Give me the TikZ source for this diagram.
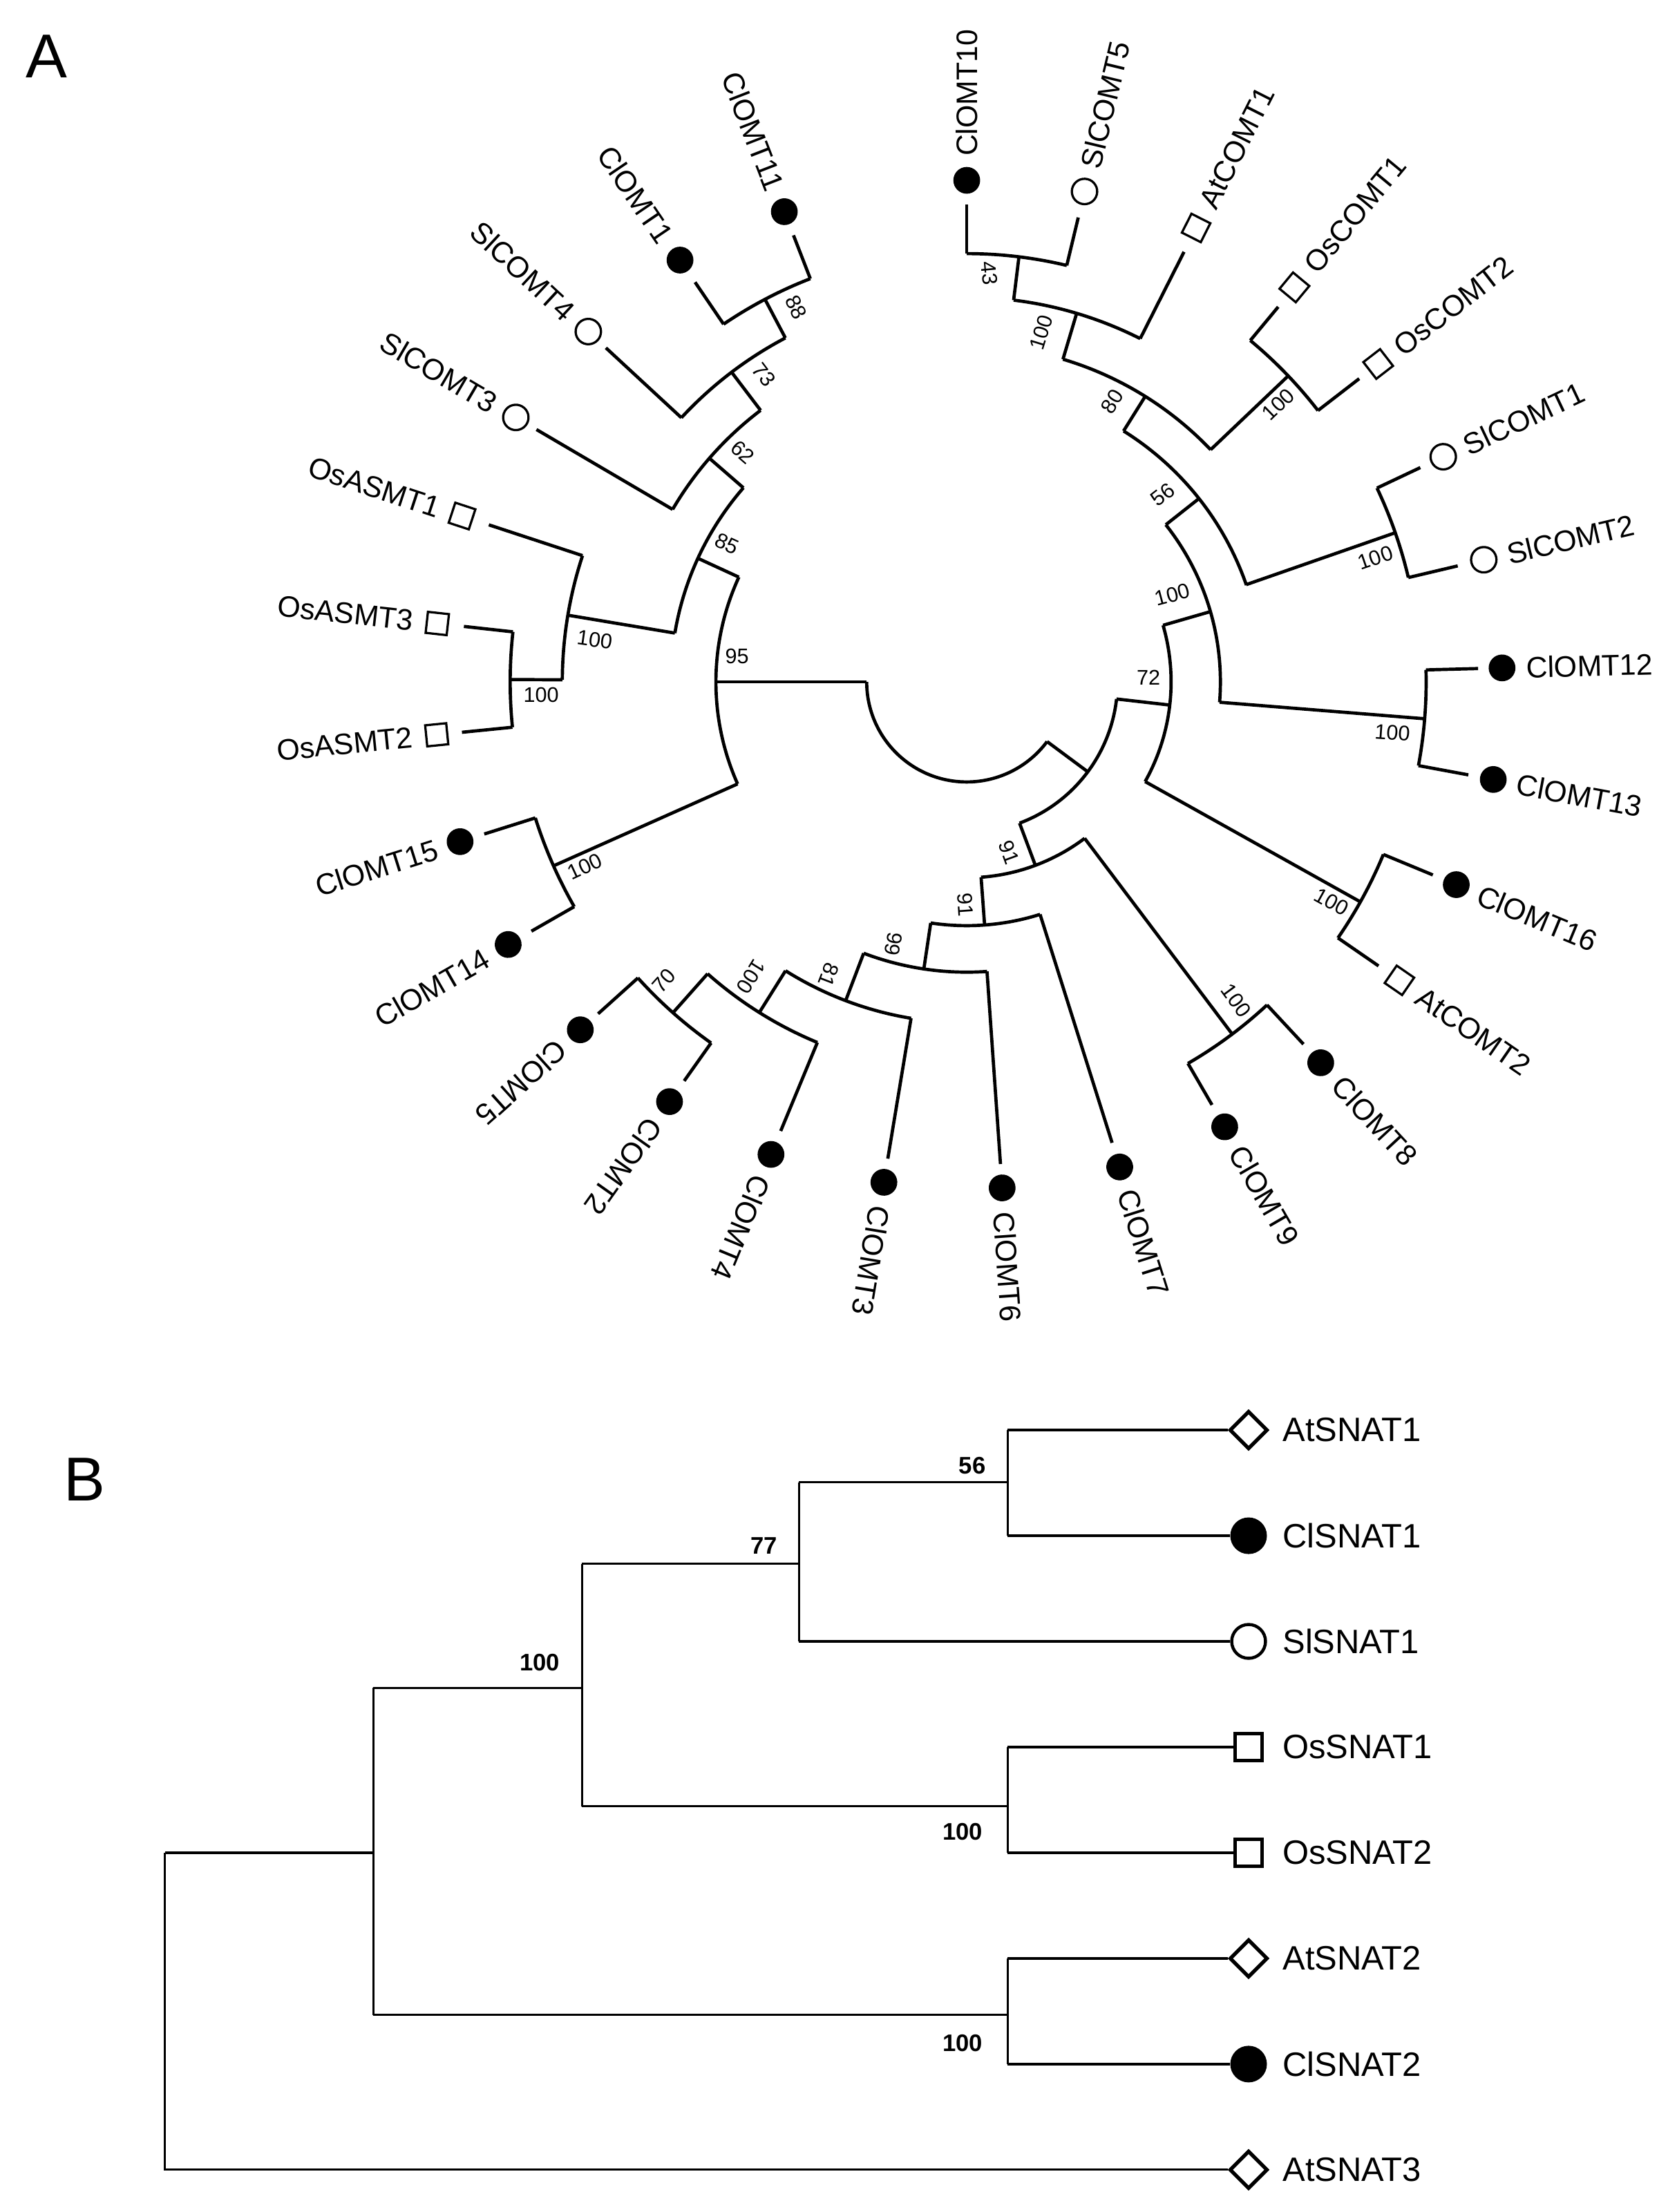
\documentclass[tikz,border=0pt]{standalone}
\usepackage{fontspec}
\setmainfont{Liberation Sans}
\usetikzlibrary{calc,shapes.geometric}
\begin{document}
\begin{tikzpicture}[x=1pt,y=1pt,
  br/.style={line width=2.3pt},
  brb/.style={line width=1.6pt},
  fillc/.style={circle,fill=black,minimum size=19pt,inner sep=0pt},
  openc/.style={circle,draw=black,line width=1.6pt,minimum size=18pt,inner sep=0pt},
  sq/.style={rectangle,draw=black,line width=1.6pt,minimum size=15pt,inner sep=0pt},
  dia/.style={rectangle,draw=black,line width=1.6pt,minimum size=15pt,inner sep=0pt},
  lab/.style={inner sep=0pt,font=\fontsize{21}{21}\selectfont},
  bs/.style={inner sep=0pt,font=\fontsize{15}{15}\selectfont},
  labB/.style={inner sep=0pt,anchor=west,font=\fontsize{24}{24}\selectfont},
  bsB/.style={inner sep=0pt,font=\fontsize{17}{17}\selectfont\bfseries},
  fB/.style={circle,fill=black,minimum size=26pt,inner sep=0pt},
  oB/.style={circle,draw=black,line width=2.2pt,minimum size=24pt,inner sep=0pt},
  sB/.style={rectangle,draw=black,line width=2.6pt,minimum size=19pt,inner sep=0pt},
  dB/.style={diamond,draw=black,line width=2.6pt,minimum size=27pt,inner sep=0pt},
  letter/.style={inner sep=0pt,font=\fontsize{44}{44}\selectfont}]
\useasboundingbox (0,0) rectangle (1190,-1570);
\fill[white] (0,0) rectangle (1190,-1570);
\node[letter] (LA) at (33,-40) {A};
\node[letter] (LB) at (60,-1050) {B};
\coordinate (C) at (686,-484);
% arcs
\foreach \r/\a/\b in {71/180/323.4, 178/155.3/204, 321/197.5/209.8, 210/139/170.5,
  287/161.8/179.7, 324/173.7/185.7, 242/127.2/149.6, 276/117.8/137.2, 307/111.2/124.2,
  107/290.5/353.5, 145/-29.2/16.1, 180/-4.6/38.3, 326/-10.5/1.5, 210/19.1/58,
  322/13.3/25.3, 239/43.6/73.4, 315/37.7/50.3, 273/63.2/83, 304/76.5/90,
  320/325.4/337.5, 139/274.2/307, 313/300.1/312.9, 173/261.5/287.5, 206/249.2/274,
  242/237.9/260.6, 277/228.4/247.5, 314/222/234.7}
  {\draw[br] ($(C)+(\a:\r)$) arc[start angle=\a, end angle=\b, radius=\r];}
% stems
\foreach \a/\ri/\ro in {180/71/178, 204/178/321, 155.3/178/210, 170.5/210/287,
  179.7/287/324, 139/210/242, 127.2/242/276, 117.8/276/307, 323.4/71/107,
  353.5/107/145, 16.1/145/180, 355.4/180/326, 38.3/180/210, 19.2/210/322,
  58/210/239, 43.6/239/315, 73.4/239/273, 83/273/304, 330.8/145/320,
  290.5/107/139, 307/139/313, 274.2/139/173, 261.5/173/206, 249.2/206/242,
  237.9/242/277, 228.4/277/314}
  {\draw[br] ($(C)+(\a:\ri)$) coordinate (s1) -- ($(C)+(\a:\ro)$) coordinate (s2);}
% leaves
\foreach \ang/\ri/\re/\mk/\typ/\lab/\rot/\anc in {
  90/304/339/356/fillc/ClOMT10/90/west,
  76.5/304/339/358/openc/SlCOMT5/76.5/west,
  63.2/273/342/361/dia/AtCOMT1/63.2/west,
  50.3/315/346/364/sq/OsCOMT1/50.3/west,
  37.7/315/352/369/sq/OsCOMT2/37.7/west,
  25.3/322/356/374/openc/SlCOMT1/25.3/west,
  13.3/322/358/377/openc/SlCOMT2/13.3/west,
  1.5/326/363/380/fillc/ClOMT12/1.5/west,
  349.5/326/362/380/fillc/ClOMT13/-10.5/west,
  337.5/320/358/376/fillc/ClOMT16/-22.5/west,
  325.4/320/355/373/dia/AtCOMT2/-34.6/west,
  312.9/313/351/369/fillc/ClOMT8/-47.1/west,
  300.1/313/347/365/fillc/ClOMT9/-59.9/west,
  287.5/173/343/361/fillc/ClOMT7/-72.5/west,
  274/206/343/360/fillc/ClOMT6/-86/west,
  260.6/242/343/360/fillc/ClOMT3/-99.4/west,
  247.5/277/345/363/fillc/ClOMT4/-112.5/west,
  234.7/314/347/365/fillc/ClOMT2/-125.3/west,
  222/314/352/369/fillc/ClOMT5/-138/west,
  209.8/321/356/375/fillc/ClOMT14/29.8/east,
  197.5/321/359/377/fillc/ClOMT15/17.5/east,
  185.7/324/360/378/sq/OsASMT2/5.7/east,
  173.7/324/359/378/sq/OsASMT3/-6.3/east,
  161.8/287/357/377/sq/OsASMT1/-18.2/east,
  149.6/242/354/371/openc/SlCOMT3/-30.4/east,
  137.2/276/349/366/openc/SlCOMT4/-42.8/east,
  124.2/307/343/362/fillc/ClOMT1/-55.8/east,
  111.2/307/340/358/fillc/ClOMT11/-68.8/east}
{
  \draw[br] ($(C)+(\ang:\ri)$) coordinate (l1) -- ($(C)+(\ang:\re)$) coordinate (l2);
  \node[\typ, rotate=\ang] (m\lab) at ($(C)+(\ang:\mk)$) {};
  \node[lab, rotate=\rot, anchor=\anc] (t\lab) at ($(C)+(\ang:\mk+17)$) {\lab};
}
% bootstrap values A
\foreach \x/\y/\r/\t [count=\i] in {565/218/-63/88, 542/266/-53/73, 527/321/-41/62,
  516/386/-25/85, 523/466/0/95, 422/454/-8/100, 384/493/0/100, 415/615/25/100,
  471/696/48/70, 533/693/238/100, 588/692/249/81, 634/670/261/99, 685/642/274/91,
  716/605/290/91, 877/710/306/100, 945/640/331/100, 815/481/0/72, 832/422/15/100,
  988/520/-4/100, 976/396/19/100, 825/351/38/56, 789/285/58/80, 907/287/44/100,
  739/236/73/100, 702/194/-85/43}
  {\node[bs, rotate=\r] (b\i) at (\x,-\y) {\t};}
% panel B
\foreach \n/\y/\typ/\t in {1/1015/dB/AtSNAT1, 2/1090/fB/ClSNAT1, 3/1165/oB/SlSNAT1,
  4/1240/sB/OsSNAT1, 5/1315/sB/OsSNAT2, 6/1390/dB/AtSNAT2, 7/1465/fB/ClSNAT2,
  8/1540/dB/AtSNAT3}
{
  \node[\typ] (M\n) at (886,-\y) {};
  \node[labB] (T\n) at (910,-\y) {\t};
}
\coordinate (r0) at (117,-1315);
\coordinate (r8) at (117,-1540);
\coordinate (n1t) at (265,-1198);
\coordinate (n1b) at (265,-1430);
\coordinate (n2t) at (413,-1110);
\coordinate (n2b) at (413,-1282);
\coordinate (n3t) at (567,-1052);
\coordinate (n3b) at (567,-1165);
\coordinate (n4t) at (715,-1015);
\coordinate (n4b) at (715,-1090);
\coordinate (n5t) at (715,-1240);
\coordinate (n5b) at (715,-1315);
\coordinate (n6t) at (715,-1390);
\coordinate (n6b) at (715,-1465);
\draw[brb] (r0) -- (r8) -- (M8.west);
\draw[brb] (r0) -- (265,-1315);
\draw[brb] (n1t) -- (n1b);
\draw[brb] (n1b) -- (n6t |- n1b);
\draw[brb] (n6t) -- (n6b);
\draw[brb] (n6t) -- (M6.west);
\draw[brb] (n6b) -- (M7.west);
\draw[brb] (n1t) -- (n2t |- n1t);
\draw[brb] (n2t) -- (n2b);
\draw[brb] (n2b) -- (n5t |- n2b);
\draw[brb] (n5t) -- (n5b);
\draw[brb] (n5t) -- (M4.west);
\draw[brb] (n5b) -- (M5.west);
\draw[brb] (n2t) -- (n3t |- n2t);
\draw[brb] (n3t) -- (n3b);
\draw[brb] (n3b) -- (M3.west);
\draw[brb] (n3t) -- (n4t |- n3t);
\draw[brb] (n4t) -- (n4b);
\draw[brb] (n4t) -- (M1.west);
\draw[brb] (n4b) -- (M2.west);
\node[bsB] (B1) at (690,-1040) {56};
\node[bsB] (B2) at (542,-1097) {77};
\node[bsB] (B3) at (383,-1180) {100};
\node[bsB] (B4) at (683,-1300) {100};
\node[bsB] (B5) at (683,-1450) {100};
\end{tikzpicture}
\end{document}
